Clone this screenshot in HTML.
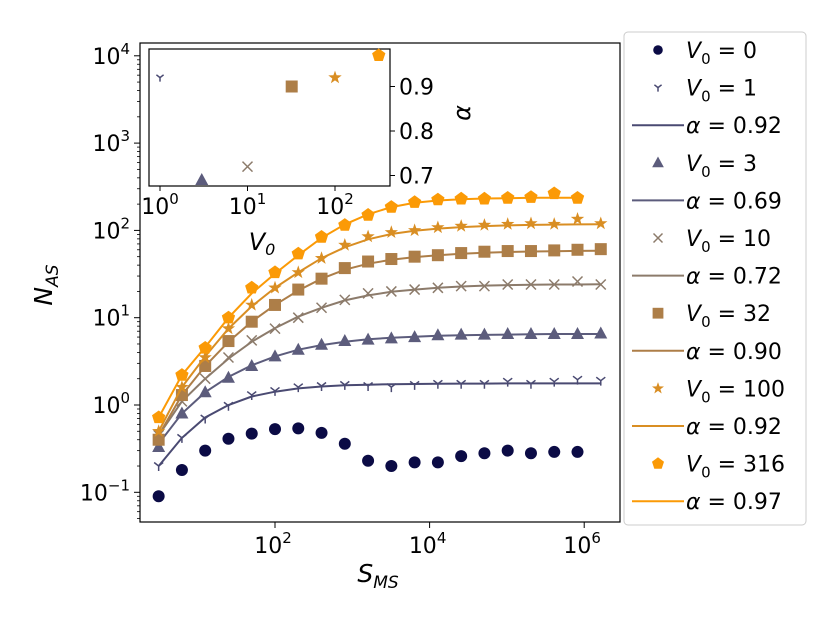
<!DOCTYPE html>
<html><head><meta charset="utf-8"><style>
html,body{margin:0;padding:0;background:#fff}
svg{display:block;font-family:"DejaVu Sans","Liberation Sans",sans-serif}
</style></head><body>
<svg id="chart" width="830" height="623" viewBox="0 0 830 623" xmlns="http://www.w3.org/2000/svg"></svg>
<script>
// ---- data ----
const sValues = [3.125,6.25,12.5,25,50,100,200,400,800,1600,3200,6400,12800,25600,51200,102400,204800,409600,819200,1638400];
const v0Labels = ["0","1","3","10","32","100","316"];
const alphaLabels = ["0.92","0.69","0.72","0.90","0.92","0.97"];
const n0 = [0.09,0.18,0.30,0.41,0.47,0.53,0.54,0.48,0.36,0.23,0.20,0.22,0.22,0.26,0.28,0.30,0.28,0.29,0.29];
const n1 = [0.20,0.42,0.70,0.98,1.3,1.45,1.6,1.65,1.7,1.65,1.6,1.7,1.75,1.75,1.75,1.85,1.75,1.85,1.95,1.9];
const n3 = [0.33,0.8,1.4,2.05,2.8,3.6,4.3,4.9,5.4,5.6,5.8,6.0,6.3,6.4,6.4,6.5,6.5,6.5,6.5,6.6];
const n10 = [0.45,1.1,2.0,3.5,5.5,7.5,10,13,16,19,20,21,22,23,23,24,24,24,26,24];
const n32 = [0.4,1.3,2.8,5.4,9,14,21,28,37,44,47,50,52,55,57,58,58,59,60,61];
const n100 = [0.5,1.6,3.5,7.5,14,22,33,48,68,85,95,100,108,112,115,118,120,118,135,120];
const n316 = [0.72,2.2,4.5,10,22,33,54,84,115,150,185,210,225,230,230,235,240,265,235];
const f1 = [0.20,0.42,0.72,1.0,1.25,1.42,1.55,1.63,1.68,1.71,1.73,1.74,1.75,1.76,1.76,1.77,1.77,1.77,1.77,1.77];
const f3 = [0.36,0.8,1.4,2.1,2.85,3.6,4.3,4.85,5.3,5.65,5.9,6.05,6.2,6.3,6.35,6.4,6.45,6.5,6.5,6.5];
const f10 = [0.45,1.1,2.0,3.4,5.3,7.6,10.3,13,15.8,18,19.8,21,22,22.8,23.3,23.6,23.8,24,24,24.1];
const f32 = [0.45,1.3,2.8,5.3,9,14,20.5,28,35.5,41.5,46,49.5,52,54,55.5,56.5,57.3,57.8,58.2,58.5];
const f100 = [0.5,1.6,3.6,7.5,13.5,22,33,48,64,79,91,99,105,109,112,114,115.5,116.5,117,117.5];
const f316 = [0.72,2.2,4.6,10,19,32,52,82,117,153,185,207,220,228,232,234,236,237,237];
const inV0 = [1,3,10,32,100,316];
const inAlpha = [0.92,0.69,0.72,0.90,0.92,0.97];
const yTicks = [-1,0,1,2,3,4];
const xTicks = [2,4,6];
const inXTicks = [0,1,2];
const inYTicks = [0.7,0.8,0.9];

// ---- setup ----
const NS="http://www.w3.org/2000/svg", svg=document.getElementById('chart');
function mk(tag,attrs,parent){const e=document.createElementNS(NS,tag);for(const k in attrs)e.setAttribute(k,attrs[k]);(parent||svg).appendChild(e);return e;}
const X=v=>275+(Math.log10(v)-2)*77.3;
const Y=v=>405-Math.log10(v)*87.3;
const IX=v=>160+Math.log10(v)*87.5;
const IY=a=>131-(a-0.8)*445;
const colors=["#0b0b45","#4a4a72","#5c5c7c","#8c7b6b","#ad7e48","#d98e23","#fb9a06"];
const L=140,R=620,T=43,B=522;

function marker(type,cx,cy,c,s,parent){
  s=s||1; let e;
  if(type==='o'){e=mk('circle',{cx,cy,r:6*s,fill:c},parent);}
  else if(type==='1'){e=mk('path',{d:`M${cx},${cy}V${cy+5*s}M${cx},${cy}L${cx-4.5*s},${cy-3.5*s}M${cx},${cy}L${cx+4.5*s},${cy-3.5*s}`,stroke:c,'stroke-width':1.5,fill:'none'},parent);}
  else if(type==='^'){e=mk('path',{d:`M${cx},${cy-7*s}L${cx+6.5*s},${cy+5*s}L${cx-6.5*s},${cy+5*s}Z`,fill:c},parent);}
  else if(type==='x'){e=mk('path',{d:`M${cx-5*s},${cy-5*s}L${cx+5*s},${cy+5*s}M${cx-5*s},${cy+5*s}L${cx+5*s},${cy-5*s}`,stroke:c,'stroke-width':1.5},parent);}
  else if(type==='s'){e=mk('rect',{x:cx-6*s,y:cy-6*s,width:12*s,height:12*s,fill:c},parent);}
  else if(type==='*'){let p='';for(let i=0;i<10;i++){const r=i%2?2.8*s:7*s,a=-Math.PI/2+i*Math.PI/5;p+=(i?'L':'M')+(cx+r*Math.cos(a)).toFixed(1)+','+(cy+r*Math.sin(a)).toFixed(1);}e=mk('path',{d:p+'Z',fill:c},parent);}
  else if(type==='p'){let p='';for(let i=0;i<5;i++){const a=-Math.PI/2+i*2*Math.PI/5;p+=(i?'L':'M')+(cx+7*s*Math.cos(a)).toFixed(1)+','+(cy+7*s*Math.sin(a)).toFixed(1);}e=mk('path',{d:p+'Z',fill:c},parent);}
  return e;
}

const defs=mk('defs',{});const cp=mk('clipPath',{id:'clipMain'},defs);mk('rect',{x:L,y:T,width:R-L,height:B-T},cp);

const axg=mk('g',{});


for(const t of yTicks){const y=Y(Math.pow(10,t));
  mk('line',{x1:L-6,x2:L,y1:y,y2:y,stroke:'#000','stroke-width':1},axg);
  const tx=mk('text',{x:L-10,y:y+8,'font-size':22,'text-anchor':'end'},axg);
  
  
  tx.innerHTML=`10<tspan dy="-10" font-size="15">${t<0?'−1':t}</tspan>`;
  for(let m=2;m<10;m++){const ym=Y(m*Math.pow(10,t));if(ym>T&&ym<B)mk('line',{x1:L-3,x2:L,y1:ym,y2:ym,stroke:'#000','stroke-width':0.8},axg);}
}
for(let m=5;m<10;m++){const ym=Y(m*0.01);if(ym<B)mk('line',{x1:L-3,x2:L,y1:ym,y2:ym,stroke:'#000','stroke-width':0.8},axg);}
for(const t of xTicks){const x=X(Math.pow(10,t));
  mk('line',{x1:x,x2:x,y1:B,y2:B+6,stroke:'#000'},axg);
  const tx=mk('text',{x:x-2,y:B+31,'font-size':22,'text-anchor':'middle'},axg);
  
  
  tx.innerHTML=`10<tspan dy="-10" font-size="15">${t}</tspan>`;
}
const yl=mk('text',{x:0,y:0,'font-size':25,'font-style':'italic',transform:'translate(52,285) rotate(-90)','text-anchor':'middle'});


yl.innerHTML='N<tspan font-size="17" dy="6">AS</tspan>';
const xl=mk('text',{x:378,y:582,'font-size':25,'font-style':'italic','text-anchor':'middle'});


xl.innerHTML='S<tspan font-size="17" dy="6">MS</tspan>';

const plot=mk('g',{'clip-path':'url(#clipMain)'});
const series=[[n0,null,'o'],[n1,f1,'1'],[n3,f3,'^'],[n10,f10,'x'],[n32,f32,'s'],[n100,f100,'*'],[n316,f316,'p']];
series.forEach((s,i)=>{
  const g=mk('g',{},plot);
  
  
  if(s[1]){const d=s[1].map((v,j)=>(j?'L':'M')+X(sValues[j]).toFixed(1)+','+Y(v).toFixed(1)).join('');
    const ln=mk('path',{d,fill:'none',stroke:colors[i],'stroke-width':2},g);
    
    }
  s[0].forEach((v,j)=>{const m=marker(s[2],X(sValues[j]),Y(v),colors[i],1,g);
    
    });
});
const frame=mk('rect',{x:L,y:T,width:R-L,height:B-T,fill:'none',stroke:'#000','stroke-width':1.2});



const ig=mk('g',{});


mk('rect',{x:149,y:49,width:241,height:137,fill:'#fff',stroke:'#000','stroke-width':1.2},ig);
for(const t of inXTicks){const x=IX(Math.pow(10,t));mk('line',{x1:x,x2:x,y1:186,y2:191,stroke:'#000'},ig);
  const tx=mk('text',{x:x,y:214,'font-size':22,'text-anchor':'middle'},ig);
  
  
  tx.innerHTML=`10<tspan dy="-10" font-size="15">${t}</tspan>`;}
for(const t of inYTicks){const y=IY(t);mk('line',{x1:390,x2:395,y1:y,y2:y,stroke:'#000'},ig);
  const tx=mk('text',{x:399,y:y+8,'font-size':22},ig);
  
  
  tx.textContent=t.toFixed(1);}
const il=mk('text',{x:262,y:250,'font-size':24,'font-style':'italic','text-anchor':'middle'},ig);


il.innerHTML='V<tspan font-size="16" dy="5">0</tspan>';
const ia=mk('text',{x:0,y:0,'font-size':24,'font-style':'italic',transform:'translate(470,113) rotate(-90)','text-anchor':'middle'},ig);


ia.textContent='α';
const itypes=['1','^','x','s','*','p'];
inV0.forEach((v,i)=>{const m=marker(itypes[i],IX(v),IY(inAlpha[i]),colors[i+1],i==0?0.8:1,ig);
  
  });

const lg=mk('g',{});


mk('rect',{x:624,y:32,width:182,height:493,rx:4,fill:'#fff',stroke:'#ccc','stroke-width':1},lg);
const types=['o','1','^','x','s','*','p'];
let row=0;const ly=r=>50+r*37.6;
for(let i=0;i<7;i++){
  const e=mk('g',{},lg);
  
  
  marker(types[i],658,ly(row),colors[i],i<=1?0.8:0.9,e);
  const t=mk('text',{x:686,y:ly(row)+8,'font-size':22},e);
  t.innerHTML=`<tspan font-style="italic">V</tspan><tspan font-size="15" dy="6">0</tspan><tspan dy="-6"> = ${v0Labels[i]}</tspan>`;
  row++;
  if(i>0){const f=mk('g',{},lg);
    
    
    mk('line',{x1:632,x2:684,y1:ly(row),y2:ly(row),stroke:colors[i],'stroke-width':2},f);
    const t2=mk('text',{x:686,y:ly(row)+8,'font-size':22},f);
    t2.innerHTML=`<tspan font-style="italic">α</tspan> = ${alphaLabels[i-1]}`;
    row++;}
}
</script>
</body></html>
